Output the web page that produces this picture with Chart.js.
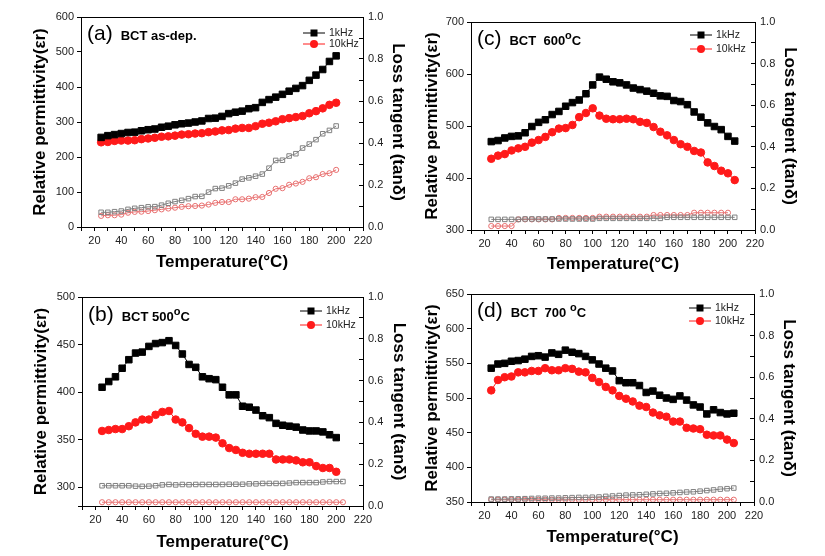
<!DOCTYPE html>
<html>
<head>
<meta charset="utf-8">
<script src="https://cdn.jsdelivr.net/npm/chart.js@4.4.1/dist/chart.umd.min.js"></script>
<style>
  body { margin: 0; background: #fff; width: 825px; height: 556px; position: relative; overflow: hidden; }
  .panel { position: absolute; }
</style>
</head>
<body>
<div class="panel" style="left:0;top:0;width:412px;height:278px"><canvas id="panelA"></canvas></div>
<div class="panel" style="left:412px;top:0;width:413px;height:278px"><canvas id="panelC"></canvas></div>
<div class="panel" style="left:0;top:278px;width:412px;height:278px"><canvas id="panelB"></canvas></div>
<div class="panel" style="left:412px;top:278px;width:413px;height:278px"><canvas id="panelD"></canvas></div>
<script>
// temperatures (°C)
const tempsShort = [25, 30, 35, 40, 45, 50, 55, 60, 65, 70, 75, 80, 85, 90, 95, 100, 105, 110, 115, 120,
	125, 130, 135, 140, 145, 150, 155, 160, 165, 170, 175, 180, 185, 190, 195, 200]
const tempsLong = [25, 30, 35, 40, 45, 50, 55, 60, 65, 70, 75, 80, 85, 90, 95, 100, 105, 110, 115, 120,
	125, 130, 135, 140, 145, 150, 155, 160, 165, 170, 175, 180, 185, 190, 195, 200, 205]

// (a) as-deposited
const epsA1k = [256, 261, 264, 267, 270, 271, 275, 278, 280, 285, 288, 292, 295, 297, 300, 303, 310, 311, 316, 324,
	328, 331, 338, 341, 356, 364, 371, 379, 388, 396, 404, 419, 434, 450, 473, 489]
const epsA10k = [242, 243, 246, 247, 247, 248, 251, 253, 255, 258, 259, 261, 264, 265, 267, 268, 271, 273, 276, 277,
	281, 283, 283, 288, 295, 298, 302, 308, 311, 314, 317, 325, 331, 339, 349, 355]
const tanA1k = [0.070, 0.070, 0.073, 0.076, 0.084, 0.089, 0.092, 0.096, 0.097, 0.104, 0.113, 0.121, 0.127, 0.135,
	0.145, 0.146, 0.166, 0.183, 0.185, 0.196, 0.209, 0.228, 0.234, 0.242, 0.252, 0.280, 0.317, 0.318, 0.338, 0.349,
	0.376, 0.395, 0.416, 0.444, 0.460, 0.481]
const tanA10k = [0.053, 0.056, 0.056, 0.059, 0.068, 0.072, 0.073, 0.076, 0.080, 0.084, 0.088, 0.092, 0.096, 0.099,
	0.100, 0.102, 0.107, 0.115, 0.119, 0.119, 0.132, 0.132, 0.135, 0.142, 0.143, 0.162, 0.182, 0.185, 0.201, 0.207,
	0.215, 0.232, 0.237, 0.252, 0.256, 0.272]

// (b) 500 °C
const epsB1k = [405, 411, 416, 425, 434, 441, 442, 448, 451, 452, 454, 449, 440, 429, 426, 416, 414, 413, 405, 397,
	397, 385, 384, 381, 375, 373, 367, 365, 364, 363, 360, 359, 359, 358, 355, 352]
const epsB10k = [359, 360, 361, 361, 364, 368, 371, 371, 376, 379, 380, 371, 368, 362, 356, 353, 353, 352, 346, 341,
	339, 336, 335, 335, 335, 335, 329, 329, 329, 328, 326, 326, 322, 320, 320, 316]
const tanB1k = [0.097, 0.097, 0.097, 0.097, 0.097, 0.095, 0.094, 0.095, 0.097, 0.101, 0.103, 0.101, 0.103, 0.102,
	0.103, 0.103, 0.103, 0.103, 0.103, 0.104, 0.104, 0.104, 0.106, 0.106, 0.108, 0.108, 0.108, 0.108, 0.110, 0.112,
	0.112, 0.112, 0.112, 0.115, 0.117, 0.117, 0.117]
const tanB10k = [0.018, 0.018, 0.018, 0.018, 0.018, 0.018, 0.018, 0.018, 0.018, 0.018, 0.018, 0.018, 0.018, 0.018,
	0.018, 0.018, 0.018, 0.018, 0.018, 0.018, 0.018, 0.018, 0.018, 0.018, 0.018, 0.018, 0.018, 0.018, 0.018, 0.018,
	0.018, 0.018, 0.018, 0.018, 0.018, 0.018, 0.018]

// (c) 600 °C
const epsC1k = [470, 472, 477, 480, 481, 487, 499, 507, 512, 522, 528, 538, 545, 550, 562, 579, 594, 590, 585, 583,
	579, 573, 570, 567, 563, 558, 557, 549, 547, 541, 527, 517, 506, 499, 493, 480, 471]
const epsC10k = [437, 443, 446, 453, 457, 460, 468, 473, 479, 488, 495, 496, 502, 517, 525, 534, 520, 514, 513, 513,
	514, 513, 508, 506, 498, 489, 482, 473, 465, 460, 452, 449, 430, 423, 414, 409, 396]
const tanC1k = [0.051, 0.051, 0.051, 0.051, 0.051, 0.053, 0.053, 0.053, 0.053, 0.053, 0.053, 0.053, 0.053, 0.053,
	0.053, 0.053, 0.056, 0.056, 0.056, 0.056, 0.056, 0.056, 0.056, 0.056, 0.056, 0.056, 0.061, 0.061, 0.061, 0.061,
	0.061, 0.061, 0.061, 0.061, 0.061, 0.061, 0.061]
const tanC10k = [0.019, 0.019, 0.019, 0.019, 0.051, 0.051, 0.051, 0.051, 0.051, 0.051, 0.058, 0.058, 0.058, 0.058,
	0.058, 0.058, 0.064, 0.064, 0.064, 0.064, 0.064, 0.064, 0.064, 0.064, 0.072, 0.072, 0.072, 0.072, 0.072, 0.072,
	0.083, 0.083, 0.083, 0.083, 0.083, 0.083]

// (d) 700 °C
const epsD1k = [543, 549, 550, 553, 554, 556, 560, 561, 559, 565, 563, 569, 566, 564, 560, 555, 549, 543, 539, 525,
	522, 522, 518, 508, 510, 504, 500, 498, 503, 497, 490, 487, 477, 483, 479, 477, 478]
const epsD10k = [511, 526, 530, 531, 537, 537, 539, 539, 543, 540, 540, 543, 542, 538, 537, 529, 523, 516, 511, 503,
	499, 495, 489, 487, 479, 475, 473, 466, 466, 457, 456, 455, 447, 446, 446, 440, 435]
const tanD1k = [0.014, 0.014, 0.014, 0.015, 0.015, 0.016, 0.017, 0.018, 0.018, 0.019, 0.019, 0.020, 0.021, 0.022,
	0.022, 0.023, 0.024, 0.027, 0.029, 0.031, 0.033, 0.034, 0.035, 0.037, 0.039, 0.041, 0.042, 0.044, 0.046, 0.048,
	0.049, 0.052, 0.055, 0.058, 0.062, 0.064, 0.067]
const tanD10k = [0.011, 0.011, 0.011, 0.011, 0.011, 0.011, 0.011, 0.011, 0.011, 0.011, 0.011, 0.011, 0.011, 0.011,
	0.011, 0.011, 0.011, 0.011, 0.011, 0.011, 0.011, 0.011, 0.011, 0.011, 0.011, 0.011, 0.011, 0.011, 0.011, 0.011,
	0.011, 0.011, 0.011, 0.011, 0.011, 0.011, 0.011]

const legendLabels = ["1kHz", "10kHz"]
const xTitle = "Temperature(°C)"
const yTitle = "Relative permittivity(εr)"
const y2Title = "Loss tangent (tanδ)"

const FONT = 'Arial, "Liberation Sans", sans-serif'
Chart.defaults.font.family = FONT
Chart.defaults.color = "#222"

const BLACK = "#000000"
const RED = "#ff1a1a"
const GREY = "#808080"
const PINK = "#e87070"

function series(temps, vals, axis, color, filled, style, radius) {
	return {
		data: vals.map((v, i) => ({ x: temps[i], y: v })),
		yAxisID: axis,
		borderColor: color,
		backgroundColor: filled ? color : "rgba(0,0,0,0)",
		pointBackgroundColor: filled ? color : "rgba(0,0,0,0)",
		pointBorderColor: color,
		pointStyle: style,
		pointRadius: radius,
		pointHoverRadius: radius,
		pointBorderWidth: 1,
		borderWidth: 1,
		tension: 0
	}
}

// frame, panel tag and in-plot legend
const decor = {
	id: "decor",
	afterDraw(chart, args, o) {
		const { ctx, chartArea: a } = chart
		ctx.save()
		ctx.strokeStyle = "#000"
		ctx.lineWidth = 1
		ctx.strokeRect(Math.round(a.left) + 0.5, Math.round(a.top) + 0.5,
			Math.round(a.right - a.left), Math.round(a.bottom - a.top))

		ctx.fillStyle = "#000"
		ctx.textBaseline = "alphabetic"
		ctx.textAlign = "left"
		ctx.font = "21px " + FONT
		let x = a.left + 6
		const y = a.top + o.tagY
		ctx.fillText(o.letter, x, y)
		x += ctx.measureText(o.letter).width + 8
		o.title.forEach((part, i) => {
			const sup = i % 2 === 1
			ctx.font = (sup ? "bold 11px " : "bold 13px ") + FONT
			ctx.fillText(part, x, sup ? y - 6 : y)
			x += ctx.measureText(part).width
		})

		const lx = a.right - o.legendDx
		const rows = [
			{ y: a.top + o.legendY[0], color: BLACK, square: true },
			{ y: a.top + o.legendY[1], color: RED, square: false }
		]
		ctx.font = "10.5px " + FONT
		ctx.textBaseline = "middle"
		rows.forEach((r, i) => {
			ctx.strokeStyle = r.color
			ctx.fillStyle = r.color
			ctx.beginPath()
			ctx.moveTo(lx, r.y)
			ctx.lineTo(lx + 22, r.y)
			ctx.stroke()
			if (r.square) {
				ctx.fillRect(lx + 11 - 3.5, r.y - 3.5, 7, 7)
			} else {
				ctx.beginPath()
				ctx.arc(lx + 11, r.y, 4, 0, Math.PI * 2)
				ctx.fill()
			}
			ctx.fillStyle = "#222"
			ctx.fillText(legendLabels[i], lx + 26, r.y)
		})
		ctx.restore()
	}
}

function buildPanel(id, p) {
	const tickFont = { size: 11 }
	const titleFont = { size: 17, weight: "bold" }
	const outTicks = { display: true, drawOnChartArea: false, drawTicks: true, tickLength: 4, color: "#000" }
	// the right axis has its tick marks pointing into the plot
	const inTicks = { display: true, drawOnChartArea: false, drawTicks: true, tickLength: -4, color: "#000" }
	new Chart(document.getElementById(id), {
		type: "line",
		data: {
			datasets: [
				series(p.eps1kT, p.eps1k, "y", BLACK, true, "rect", 4.6),
				series(p.eps10kT, p.eps10k, "y", RED, true, "circle", 3.8),
				series(p.tan1kT, p.tan1k, "y2", GREY, false, "rect", 3.2),
				series(p.tan10kT, p.tan10k, "y2", PINK, false, "circle", 2.6)
			]
		},
		options: {
			responsive: true,
			maintainAspectRatio: false,
			animation: false,
			events: [],
			layout: { padding: { top: p.top, left: 0, right: 0, bottom: 0 } },
			plugins: {
				legend: { display: false },
				tooltip: { enabled: false },
				decor: p.decor
			},
			scales: {
				x: {
					type: "linear",
					min: 10,
					max: 220,
					border: { display: false },
					grid: outTicks,
					ticks: {
						stepSize: 10,
						autoSkip: false,
						maxRotation: 0,
						padding: 3,
						font: tickFont,
						callback: v => (v % 20 === 0 ? v : "")
					},
					title: { display: true, text: xTitle, color: "#000", font: titleFont, padding: { top: 0, bottom: p.xPad } },
					afterFit: s => { s.height = p.bottomH }
				},
				y: {
					position: "left",
					min: p.yMin,
					max: p.yMax,
					border: { display: false },
					grid: outTicks,
					ticks: {
						stepSize: p.yStep,
						autoSkip: false,
						padding: 3,
						font: tickFont,
						callback: v => (v % p.yStep === 0 ? v : "")
					},
					title: { display: true, text: yTitle, color: "#000", font: titleFont, padding: { top: p.yPad, bottom: 0 } },
					afterFit: s => { s.width = p.leftW }
				},
				y2: {
					position: "right",
					min: 0,
					max: 1,
					border: { display: false },
					grid: inTicks,
					ticks: {
						stepSize: 0.1,
						autoSkip: false,
						padding: 9,
						font: tickFont,
						callback: v => (Math.round(v * 10) % 2 === 0 ? v.toFixed(1) : "")
					},
					title: { display: true, text: y2Title, color: "#000", font: titleFont, padding: { top: p.y2Pad, bottom: 0 } },
					afterFit: s => { s.width = p.rightW }
				}
			}
		},
		plugins: [decor]
	})
}

buildPanel("panelA", {
	eps1kT: tempsShort, eps1k: epsA1k, eps10kT: tempsShort, eps10k: epsA10k,
	tan1kT: tempsShort, tan1k: tanA1k, tan10kT: tempsShort, tan10k: tanA10k,
	yMin: 0, yMax: 600, yStep: 100,
	top: 17, leftW: 81, rightW: 49, bottomH: 51, yPad: 30, y2Pad: 4, xPad: 5,
	decor: { letter: "(a)", title: ["BCT as-dep."], tagY: 23, legendDx: 60, legendY: [16, 27] }
})

buildPanel("panelC", {
	eps1kT: tempsLong, eps1k: epsC1k, eps10kT: tempsLong, eps10k: epsC10k,
	tan1kT: tempsLong, tan1k: tanC1k, tan10kT: tempsShort, tan10k: tanC10k,
	yMin: 300, yMax: 700, yStep: 100,
	top: 22, leftW: 59, rightW: 70, bottomH: 48, yPad: 10, y2Pad: 25, xPad: 3,
	decor: { letter: "(c)", title: ["BCT  600", "o", "C"], tagY: 23, legendDx: 65, legendY: [13, 27] }
})

buildPanel("panelB", {
	eps1kT: tempsShort, eps1k: epsB1k, eps10kT: tempsShort, eps10k: epsB10k,
	tan1kT: tempsLong, tan1k: tanB1k, tan10kT: tempsLong, tan10k: tanB10k,
	yMin: 280, yMax: 500, yStep: 50,
	top: 19, leftW: 82, rightW: 49, bottomH: 50, yPad: 31, y2Pad: 3, xPad: 3,
	decor: { letter: "(b)", title: ["BCT 500", "o", "C"], tagY: 24, legendDx: 63, legendY: [14, 28] }
})

buildPanel("panelD", {
	eps1kT: tempsLong, eps1k: epsD1k, eps10kT: tempsLong, eps10k: epsD10k,
	tan1kT: tempsLong, tan1k: tanD1k, tan10kT: tempsLong, tan10k: tanD10k,
	yMin: 350, yMax: 650, yStep: 50,
	top: 16, leftW: 59, rightW: 71, bottomH: 54, yPad: 10, y2Pad: 26, xPad: 8,
	decor: { letter: "(d)", title: ["BCT  700 ", "o", "C"], tagY: 23, legendDx: 65, legendY: [14, 27] }
})
</script>
</body>
</html>
